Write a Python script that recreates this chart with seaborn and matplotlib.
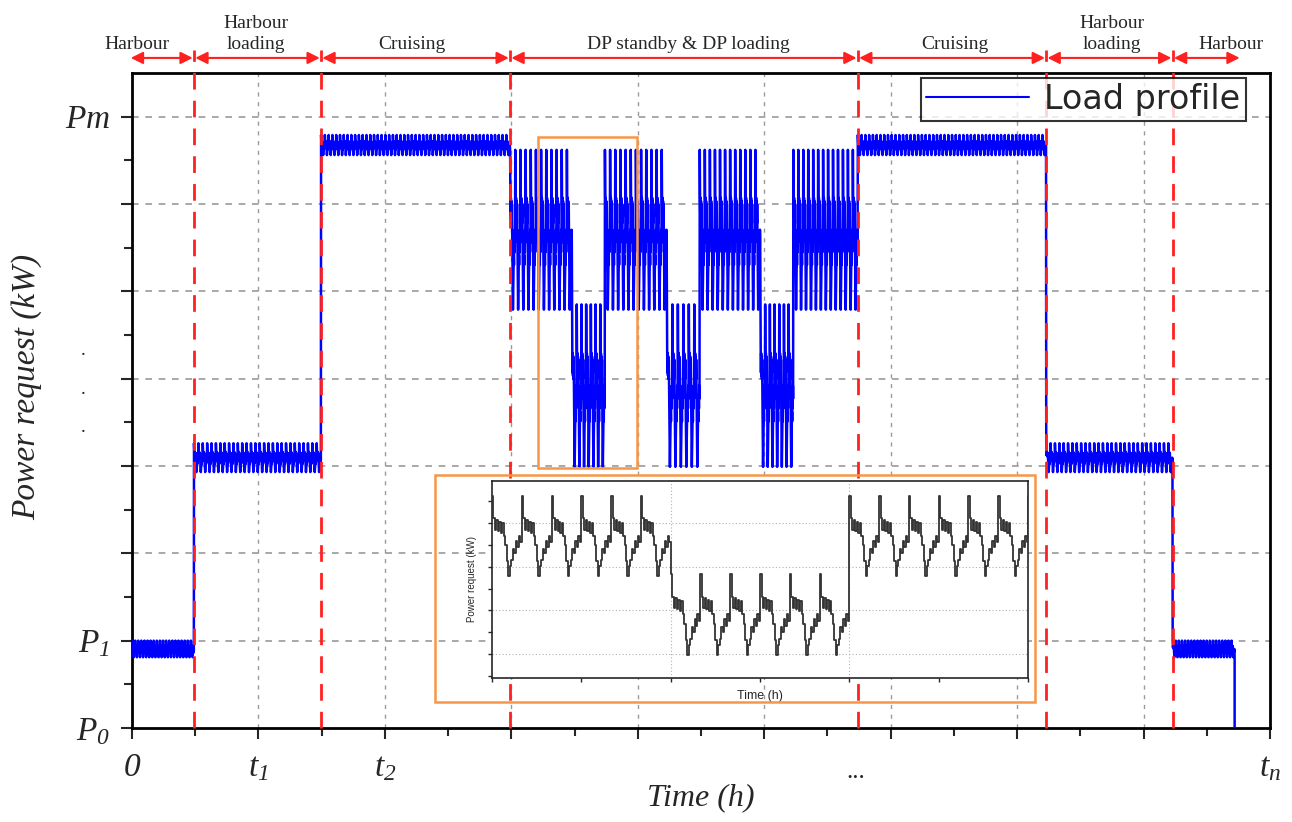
import numpy as np
import pandas as pd
import matplotlib
matplotlib.use("Agg")
import matplotlib.pyplot as plt
from matplotlib.patches import Rectangle
import seaborn as sns

# ---------------- data ----------------
# one period of the load waveform, normalised 0 (min) .. 1 (peak)
cycle_shape = [1.0, 0.72, 0.58, 0.70, 0.56, 0.68, 0.54, 0.66, 0.50, 0.38,
               0.18, 0.0, 0.12, 0.20, 0.34, 0.28, 0.44, 0.36, 0.50, 0.42]

# main-plot segments: start, end (time units), band low / high (power units), period
seg_start = [0.00, 0.49, 1.495, 2.99, 3.48, 3.74, 4.23, 4.49, 4.97, 5.23, 5.74, 7.23, 8.23]
seg_end = [0.49, 1.495, 2.99, 3.48, 3.74, 4.23, 4.49, 4.97, 5.23, 5.74, 7.23, 8.23, 8.72]
seg_low = [0.81, 2.93, 6.56, 4.79, 2.99, 4.79, 2.99, 4.79, 2.99, 4.79, 6.56, 2.93, 0.81]
seg_high = [1.00, 3.26, 6.79, 6.62, 4.85, 6.62, 4.85, 6.62, 4.85, 6.62, 6.79, 3.26, 1.00]
seg_period = [0.025, 0.035, 0.03, 0.04, 0.04, 0.04, 0.04, 0.04, 0.04, 0.04, 0.03, 0.035, 0.025]

# inset segments (zoom of DP standby / loading)
ins_start = [0.0, 1.0, 2.0]
ins_end = [1.0, 2.0, 3.0]
ins_low = [2.80, 0.98, 2.80]
ins_high = [4.62, 2.84, 4.62]
ins_cycles = [6, 6, 6]

phase_names = ["Harbour", "Harbour\nloading", "Cruising", "DP standby & DP loading",
               "Cruising", "Harbour\nloading", "Harbour"]
phase_bounds = [-0.02, 0.49, 1.495, 2.99, 5.74, 7.23, 8.23, 8.77]
phase_label_x = [0.04, 0.98, 2.21, 4.40, 6.51, 7.75, 8.69]
red_lines = [0.49, 1.495, 2.99, 5.74, 7.23, 8.23]

xtick_pos = [0, 1, 2, 9]
xtick_lab = [r"$0$", r"$t_{1}$", r"$t_{2}$", r"$t_{n}$"]
ytick_pos = [0, 1, 7]
ytick_lab = [r"$P_{0}$", r"$P_{1}$", r"$Pm$"]


def build(starts, ends, lows, highs, ncycles):
    xs, ys = [], []
    m = len(cycle_shape)
    for s, e, lo, hi, n in zip(starts, ends, lows, highs, ncycles):
        p = (e - s) / n
        for k in range(n):
            for j, v in enumerate(cycle_shape):
                xs.append(s + (k + j / m) * p)
                ys.append(lo + v * (hi - lo))
    return xs, ys


main_n = [max(1, int(round((e - s) / p))) for s, e, p in zip(seg_start, seg_end, seg_period)]
mx, my = build(seg_start, seg_end, seg_low, seg_high, main_n)
mx += [seg_end[-1], seg_end[-1]]
my += [seg_low[-1], 0.0]
main_df = pd.DataFrame({"Time": mx, "Power": my})

ix, iy = build(ins_start, ins_end, ins_low, ins_high, ins_cycles)
ix += [ins_end[-1]]
iy += [ins_high[-1]]
ins_df = pd.DataFrame({"Time": ix, "Power": iy})

# ---------------- styling ----------------
sns.set_style("ticks")
plt.rcParams["font.family"] = ["Liberation Serif", "DejaVu Serif"]
plt.rcParams["mathtext.fontset"] = "custom"
plt.rcParams["mathtext.rm"] = "Liberation Serif:italic"
plt.rcParams["mathtext.it"] = "Liberation Serif:italic"
plt.rcParams["mathtext.bf"] = "Liberation Serif:bold"

fig = plt.figure(figsize=(12.92, 8.22), dpi=100)
ax = fig.add_axes([0.1022, 0.1144, 0.8808, 0.7968])

sns.lineplot(data=main_df, x="Time", y="Power", estimator=None, sort=False,
             color="#0000ff", lw=1.8, ax=ax, label="Load profile", zorder=3)

ax.set_xlim(0, 9)
ax.set_ylim(0, 7.5)
ax.set_xticks(np.arange(0, 10, 1))
ax.set_xticks(np.arange(0.5, 9, 1), minor=True)
ax.set_yticks(np.arange(0, 8, 1))
ax.set_yticks(np.arange(0.5, 7.5, 1), minor=True)
xl = [""] * 10
for p, l in zip(xtick_pos, xtick_lab):
    xl[p] = l
yl = [""] * 8
for p, l in zip(ytick_pos, ytick_lab):
    yl[p] = l
ax.set_xticklabels(xl, fontsize=24)
ax.set_yticklabels(yl, fontsize=24)
ax.tick_params(axis="x", which="major", length=8, width=1.5, direction="out", pad=10)
ax.tick_params(axis="y", which="major", length=8, width=1.5, direction="out", pad=8)
ax.tick_params(axis="both", which="minor", length=6, width=1.5, direction="out")
for s in ax.spines.values():
    s.set_linewidth(2)
    s.set_color("black")

# grids
for yv in range(1, 8):
    ax.axhline(yv, color="#9a9a9a", lw=1.2, ls=(0, (4, 4)), zorder=1)
for xv in range(1, 9):
    ax.axvline(xv, color="#9a9a9a", lw=1.0, ls=(0, (3, 4)), zorder=1)

ax.set_xlabel("Time (h)", fontsize=23, style="italic", labelpad=0)
ax.set_ylabel("Power request (kW)", fontsize=24, style="italic")
ax.yaxis.set_label_coords(-0.079, 0.52)
ax.text(5.72, -0.5, "...", fontsize=18, ha="center", va="center")
for yy in [4.32, 3.88, 3.44]:
    ax.text(-0.39, yy, ".", fontsize=14, ha="center", va="center")

# red phase separators + arrows
trans = ax.get_xaxis_transform()
for xv in red_lines:
    ax.plot([xv, xv], [0, 1.035], color="#ff2020", lw=2, ls=(0, (6, 4)),
            transform=trans, clip_on=False, zorder=4)
for i, name in enumerate(phase_names):
    a, b = phase_bounds[i], phase_bounds[i + 1]
    ax.annotate("", xy=(a + 0.01, 1.023), xytext=(b - 0.01, 1.023),
                xycoords=trans, textcoords=trans,
                arrowprops=dict(arrowstyle="<|-|>", color="#ff2020", lw=1.5,
                                mutation_scale=18, shrinkA=0, shrinkB=0))
    ax.text(phase_label_x[i], 1.030, name, transform=trans, ha="center", va="bottom",
            fontsize=14, linespacing=1.3)

# orange zoom box in main plot
ax.add_patch(Rectangle((3.21, 2.98), 0.78, 3.79, fill=False, edgecolor="#f79646",
                       lw=1.8, zorder=5))

leg = ax.legend(loc="upper right", bbox_to_anchor=(0.9785, 0.993),
                frameon=True, fancybox=False, edgecolor="black", handlelength=3.1,
                borderpad=0.15, handletextpad=0.45, borderaxespad=0,
                prop={"family": ["DejaVu Sans"], "size": 24})
leg.get_frame().set_linewidth(1.5)
for h in leg.get_lines():
    h.set_linewidth(1.5)

# orange frame around the inset
fig.add_artist(Rectangle((0.3367, 0.146), 0.4644, 0.276, transform=fig.transFigure,
                         fill=False, edgecolor="#f79646", lw=1.8, zorder=6))

# inset axes
iax = fig.add_axes([0.3808, 0.1752, 0.4149, 0.2397])
iax.set_facecolor("white")
sns.lineplot(data=ins_df, x="Time", y="Power", estimator=None, sort=False,
             color="#333333", lw=1.3, ax=iax, drawstyle="steps-post", zorder=3)
iax.set_xlim(0, 3)
iax.set_ylim(0.45, 4.97)
iax.set_xticks([0, 1, 2, 3])
iax.set_xticks([0.5, 1.5, 2.5], minor=True)
iax.set_yticks([1, 2, 3, 4])
iax.set_yticks([0.5, 1.5, 2.5, 3.5, 4.5], minor=True)
iax.set_xticklabels([])
iax.set_yticklabels([])
iax.tick_params(which="both", length=3, width=1, direction="out")
for yv in [1, 2, 3, 4]:
    iax.axhline(yv, color="#b0b0b0", lw=0.8, ls=(0, (1, 2)), zorder=1)
for xv in [1, 2]:
    iax.axvline(xv, color="#b0b0b0", lw=0.8, ls=(0, (1, 2)), zorder=1)
for s in iax.spines.values():
    s.set_linewidth(1.2)
iax.set_xlabel("Time (h)", fontsize=9, family=["Liberation Sans", "DejaVu Sans"], labelpad=2)
iax.set_ylabel("Power request (kW)", fontsize=7, family=["Liberation Sans", "DejaVu Sans"], labelpad=4)

fig.savefig("out.png", dpi=100)
